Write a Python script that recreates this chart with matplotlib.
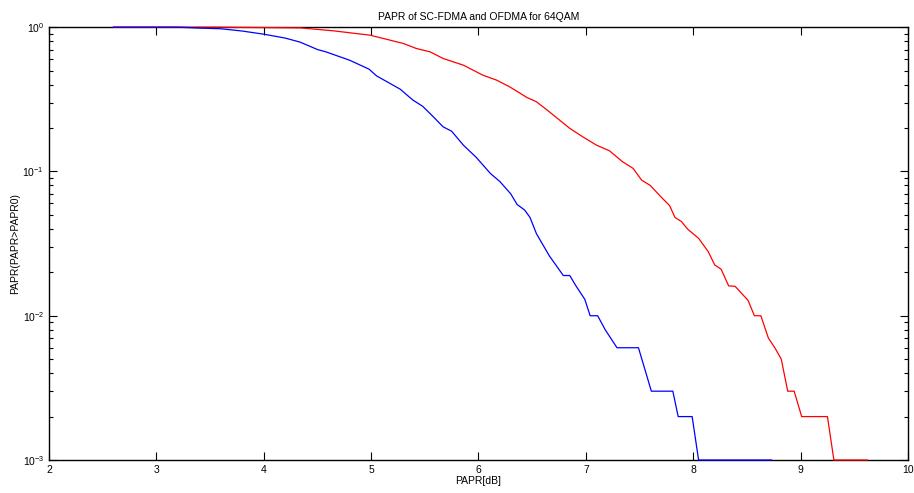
import matplotlib.pyplot as plt
import numpy as np

plt.rcParams['font.family'] = ['Liberation Sans', 'DejaVu Sans']
plt.rcParams['mathtext.default'] = 'regular'

# CCDF of PAPR, SC-FDMA (blue)
papr_sc = [2.6, 3.2, 3.4, 3.6, 3.8, 4.0, 4.2, 4.34, 4.5, 4.58, 4.8, 4.98, 5.05,
           5.27, 5.39, 5.48, 5.58, 5.67, 5.75, 5.86, 5.98, 6.11, 6.2, 6.3, 6.36,
           6.43, 6.48, 6.54, 6.66, 6.79, 6.85, 6.91, 6.99, 7.04, 7.11, 7.18,
           7.29, 7.49, 7.61, 7.81, 7.86, 7.99, 8.05, 8.73]
ccdf_sc = [1.0, 1.0, 0.985, 0.975, 0.94, 0.894, 0.84, 0.787, 0.70, 0.674, 0.59,
           0.512, 0.46, 0.372, 0.312, 0.283, 0.239, 0.204, 0.19, 0.152, 0.125,
           0.097, 0.085, 0.07, 0.059, 0.054, 0.048, 0.037, 0.026, 0.019, 0.019,
           0.016, 0.013, 0.010, 0.010, 0.008, 0.006, 0.006, 0.003, 0.003, 0.002,
           0.002, 0.001, 0.001]

# CCDF of PAPR, OFDMA (red)
papr_of = [2.6, 3.56, 4.34, 4.65, 4.99, 5.3, 5.42, 5.55, 5.67, 5.86, 6.04, 6.17,
           6.29, 6.45, 6.54, 6.66, 6.85, 6.97, 7.1, 7.22, 7.34, 7.44, 7.52, 7.6,
           7.7, 7.78, 7.83, 7.89, 7.95, 8.05, 8.14, 8.2, 8.26, 8.33, 8.39, 8.45,
           8.51, 8.57, 8.63, 8.7, 8.76, 8.82, 8.88, 8.94, 9.01, 9.25, 9.31, 9.62]
ccdf_of = [1.0, 1.0, 0.989, 0.943, 0.88, 0.771, 0.712, 0.674, 0.607, 0.545,
           0.465, 0.429, 0.386, 0.326, 0.304, 0.259, 0.199, 0.174, 0.152, 0.139,
           0.117, 0.105, 0.087, 0.080, 0.0666, 0.058, 0.048, 0.045, 0.0397,
           0.0344, 0.0278, 0.0225, 0.021, 0.0161, 0.016, 0.0143, 0.0128, 0.010,
           0.010, 0.007, 0.006, 0.005, 0.003, 0.003, 0.002, 0.002, 0.001, 0.001]

fig = plt.figure(figsize=(9.14, 4.93), dpi=100)
ax = fig.add_axes([0.0536, 0.0669, 0.9398, 0.878])

# lines sit above the spines (unclipped) so the 1 and 0.001 levels stay visible
ax.semilogy(papr_of, ccdf_of, color=(1, 0, 0), linewidth=0.9, zorder=3, clip_on=False)
ax.semilogy(papr_sc, ccdf_sc, color=(0, 0, 1), linewidth=0.9, zorder=3, clip_on=False)

ax.set_xlim(2, 10)
ax.set_ylim(1e-3, 1)
ax.set_xticks(np.arange(2, 11, 1))

ax.tick_params(which='both', direction='in', top=True, right=True,
               labelsize=7.5, width=0.8)
ax.tick_params(which='major', length=6)
ax.tick_params(which='minor', length=3)
for s in ax.spines.values():
    s.set_linewidth(1.0)

ax.set_title('PAPR of SC-FDMA and OFDMA for 64QAM', fontsize=7.5, pad=5)
ax.set_xlabel('PAPR[dB]', fontsize=7.5, labelpad=1)
ax.set_ylabel('PAPR(PAPR>PAPR0)', fontsize=7.5, labelpad=2)

fig.savefig('out.png', dpi=100)
